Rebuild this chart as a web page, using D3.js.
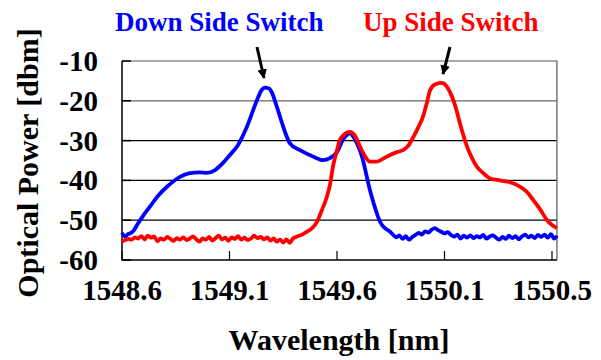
<!DOCTYPE html>
<html>
<head>
<meta charset="utf-8">
<script src="https://cdn.jsdelivr.net/npm/d3@7"></script>
<style>
  html, body { margin: 0; padding: 0; background: #fff; }
  svg { display: block; font-family: "Liberation Serif", "Times New Roman", serif; font-weight: bold; }
</style>
</head>
<body>
<svg id="chart"></svg>
<script>
// Tick values and labels (Excel-style category labels)
const xTickValues = [1548.6, 1549.1, 1549.6, 1550.1, 1550.6];
const xTickLabels = ['1548.6', '1549.1', '1549.6', '1550.1', '1550.5'];
const yTickValues = [-10, -20, -30, -40, -50, -60];

// Down side switch spectrum (blue): wavelength [nm], power [dBm]
const downWave = [
  1548.600, 1548.614, 1548.628, 1548.642, 1548.656, 1548.670, 1548.698, 1548.730, 1548.767, 1548.809,
  1548.870, 1548.916, 1548.963, 1548.995, 1549.033, 1549.070, 1549.102, 1549.135, 1549.181, 1549.228,
  1549.247, 1549.265, 1549.284, 1549.298, 1549.316, 1549.335, 1549.358, 1549.381, 1549.428, 1549.488,
  1549.535, 1549.567, 1549.600, 1549.628, 1549.660, 1549.684, 1549.716, 1549.753, 1549.777, 1549.800,
  1549.823, 1549.847, 1549.860, 1549.875, 1549.890, 1549.905, 1549.920, 1549.935, 1549.950, 1549.965,
  1549.980, 1549.995, 1550.010, 1550.025, 1550.040, 1550.055, 1550.070, 1550.085, 1550.100, 1550.115,
  1550.130, 1550.145, 1550.160, 1550.175, 1550.190, 1550.205, 1550.220, 1550.235, 1550.250, 1550.265,
  1550.280, 1550.295, 1550.310, 1550.325, 1550.340, 1550.355, 1550.370, 1550.385, 1550.400, 1550.415,
  1550.430, 1550.445, 1550.460, 1550.475, 1550.490, 1550.505, 1550.520, 1550.535, 1550.550, 1550.565,
  1550.580, 1550.595, 1550.610, 1550.623
];
const downPower = [
  -53.2, -54.1, -53.5, -53.2, -52.5, -51.2, -48.9, -46.6, -43.9, -41.6,
  -39.1, -38.2, -38.0, -38.1, -37.4, -35.6, -33.6, -31.5, -26.5, -19.8,
  -17.5, -16.7, -16.9, -18.0, -20.8, -24.0, -27.8, -30.7, -32.4, -34.0,
  -34.9, -34.4, -32.9, -29.8, -28.2, -29.8, -34.0, -42.4, -46.9, -50.4,
  -52.0, -52.9, -53.6, -54.3, -53.8, -54.7, -54.0, -54.9, -54.2, -53.7,
  -53.2, -53.6, -52.8, -53.1, -52.4, -52.0, -52.5, -52.9, -53.3, -53.0,
  -53.7, -54.1, -53.6, -54.6, -53.9, -54.4, -53.8, -54.5, -54.0, -54.3,
  -53.7, -54.6, -54.1, -53.8, -54.4, -54.9, -54.2, -54.7, -53.9, -54.5,
  -54.0, -54.8, -54.1, -53.6, -54.3, -53.9, -54.5, -53.7, -54.2, -53.6,
  -54.4, -53.5, -54.6, -53.9
];

// Up side switch spectrum (red)
const upWave = [
  1548.600, 1548.615, 1548.630, 1548.645, 1548.660, 1548.675, 1548.690, 1548.705, 1548.720, 1548.735,
  1548.750, 1548.765, 1548.780, 1548.795, 1548.810, 1548.825, 1548.840, 1548.855, 1548.870, 1548.885,
  1548.900, 1548.915, 1548.930, 1548.945, 1548.960, 1548.975, 1548.990, 1549.005, 1549.020, 1549.035,
  1549.050, 1549.065, 1549.080, 1549.095, 1549.110, 1549.125, 1549.140, 1549.155, 1549.170, 1549.185,
  1549.200, 1549.215, 1549.230, 1549.245, 1549.260, 1549.275, 1549.290, 1549.305, 1549.320, 1549.335,
  1549.350, 1549.365, 1549.380, 1549.395, 1549.410, 1549.442, 1549.460, 1549.484, 1549.507, 1549.530,
  1549.553, 1549.567, 1549.581, 1549.600, 1549.614, 1549.637, 1549.660, 1549.684, 1549.707, 1549.730,
  1549.753, 1549.786, 1549.819, 1549.847, 1549.879, 1549.907, 1549.930, 1549.953, 1549.977, 1550.000,
  1550.019, 1550.033, 1550.060, 1550.088, 1550.112, 1550.135, 1550.153, 1550.172, 1550.205, 1550.228,
  1550.251, 1550.279, 1550.312, 1550.358, 1550.391, 1550.428, 1550.451, 1550.484, 1550.512, 1550.544,
  1550.577, 1550.600, 1550.623
];
const upPower = [
  -55.4, -55.0, -54.7, -54.9, -54.3, -54.6, -54.0, -54.8, -53.9, -54.4,
  -54.1, -55.3, -54.6, -54.9, -54.2, -54.7, -55.2, -54.5, -54.9, -54.3,
  -55.0, -54.6, -54.1, -54.8, -55.4, -54.6, -54.9, -54.2, -55.1, -54.5,
  -53.9, -54.8, -54.4, -55.2, -54.3, -54.7, -54.0, -54.9, -54.4, -55.0,
  -54.6, -53.9, -54.5, -54.2, -54.8, -54.3, -55.1, -54.6, -55.4, -54.9,
  -55.6, -54.8, -55.7, -54.6, -54.2, -53.5, -52.9, -52.0, -50.4, -47.4,
  -44.1, -41.2, -36.6, -32.4, -29.8, -28.3, -27.8, -28.8, -31.5, -33.9,
  -35.3, -35.3, -34.4, -33.6, -32.9, -32.4, -31.4, -29.3, -26.8, -24.0,
  -20.3, -17.3, -15.8, -15.5, -16.5, -19.0, -21.8, -25.7, -31.5, -34.4,
  -36.6, -38.1, -39.5, -40.0, -40.3, -40.9, -41.6, -42.9, -44.9, -47.2,
  -50.0, -51.2, -52.0
];

const downData = downWave.map((w, i) => ({ w, p: downPower[i] }));
const upData = upWave.map((w, i) => ({ w, p: upPower[i] }));

const width = 601;
const height = 360;
const plot = { left: 122, top: 61, bottom: 260 };

const svg = d3.select('#chart')
  .attr('width', width)
  .attr('height', height);

const x = d3.scaleLinear()
  .domain([1548.6, 1550.6])
  .range([plot.left, 552]);

const y = d3.scaleLinear()
  .domain([-60, -10])
  .range([plot.bottom, plot.top]);

const xEnd = x(1550.623);

// Horizontal grid lines
svg.append('g')
  .selectAll('line')
  .data(yTickValues.filter(v => v !== -60 && v !== -10))
  .join('line')
  .attr('x1', plot.left)
  .attr('x2', xEnd)
  .attr('y1', d => y(d))
  .attr('y2', d => y(d))
  .attr('stroke', d => d === -20 ? '#666' : '#000')
  .attr('stroke-width', 1.2);

// Plot frame: top/right grey, left/bottom black
svg.append('path')
  .attr('d', `M${plot.left},${y(-10)}H${xEnd}V${y(-60)}`)
  .attr('fill', 'none')
  .attr('stroke', '#555')
  .attr('stroke-width', 1.2);

svg.append('path')
  .attr('d', `M${plot.left},${y(-10)}V${y(-60)}H${xEnd}`)
  .attr('fill', 'none')
  .attr('stroke', '#000')
  .attr('stroke-width', 1.5);

// Inner x tick marks
svg.append('g')
  .selectAll('line')
  .data(xTickValues)
  .join('line')
  .attr('x1', d => x(d))
  .attr('x2', d => x(d))
  .attr('y1', plot.bottom)
  .attr('y2', plot.bottom - 9)
  .attr('stroke', '#000')
  .attr('stroke-width', 1.2);

// Inner y tick marks
svg.append('g')
  .selectAll('line')
  .data(yTickValues)
  .join('line')
  .attr('x1', plot.left)
  .attr('x2', plot.left + 9)
  .attr('y1', d => y(d))
  .attr('y2', d => y(d))
  .attr('stroke', '#000')
  .attr('stroke-width', 1.5);

// Tick labels
svg.append('g')
  .selectAll('text')
  .data(xTickValues)
  .join('text')
  .attr('x', d => x(d))
  .attr('y', 300)
  .attr('text-anchor', 'middle')
  .attr('font-size', 29)
  .text((d, i) => xTickLabels[i]);

svg.append('g')
  .selectAll('text')
  .data(yTickValues)
  .join('text')
  .attr('x', 98)
  .attr('y', d => y(d) + 10)
  .attr('text-anchor', 'end')
  .attr('font-size', 29)
  .text(d => d);

// Spectra
const line = d3.line()
  .curve(d3.curveMonotoneX)
  .x(d => x(d.w))
  .y(d => y(d.p));

svg.append('path')
  .datum(downData)
  .attr('fill', 'none')
  .attr('stroke', '#0000ff')
  .attr('stroke-width', 3.8)
  .attr('stroke-linejoin', 'round')
  .attr('d', line);

svg.append('path')
  .datum(upData)
  .attr('fill', 'none')
  .attr('stroke', '#ff0000')
  .attr('stroke-width', 3.8)
  .attr('stroke-linejoin', 'round')
  .attr('d', line);

// Axis titles
svg.append('text')
  .attr('x', 339)
  .attr('y', 350)
  .attr('text-anchor', 'middle')
  .attr('font-size', 30)
  .text('Wavelength [nm]');

svg.append('text')
  .attr('transform', 'translate(38,163) rotate(-90)')
  .attr('text-anchor', 'middle')
  .attr('font-size', 30)
  .text('Optical Power [dbm]');

// Annotations with arrows
svg.append('defs').append('marker')
  .attr('id', 'head')
  .attr('viewBox', '0 0 10 10')
  .attr('refX', 9)
  .attr('refY', 5)
  .attr('markerWidth', 3.2)
  .attr('markerHeight', 3.2)
  .attr('orient', 'auto')
  .append('path')
  .attr('d', 'M0,0L10,5L0,10z')
  .attr('fill', '#000');

svg.append('text')
  .attr('x', 115)
  .attr('y', 31)
  .attr('font-size', 27)
  .attr('fill', '#0000ff')
  .text('Down Side Switch');

svg.append('text')
  .attr('x', 363)
  .attr('y', 31)
  .attr('font-size', 27)
  .attr('fill', '#ff0000')
  .text('Up Side Switch');

svg.append('line')
  .attr('x1', 257).attr('y1', 47)
  .attr('x2', 264).attr('y2', 78)
  .attr('stroke', '#000')
  .attr('stroke-width', 3)
  .attr('marker-end', 'url(#head)');

svg.append('line')
  .attr('x1', 450).attr('y1', 47)
  .attr('x2', 443).attr('y2', 74)
  .attr('stroke', '#000')
  .attr('stroke-width', 3)
  .attr('marker-end', 'url(#head)');
</script>
</body>
</html>
